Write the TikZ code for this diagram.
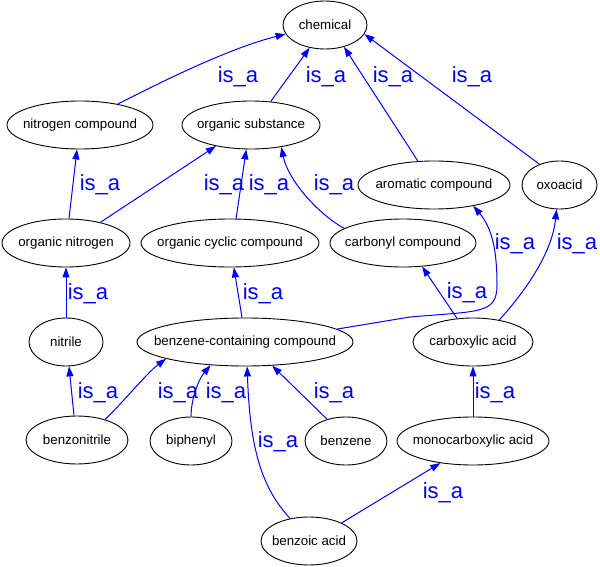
\documentclass[tikz,border=0pt]{standalone}
\usepackage{fontspec}
\setmainfont{Liberation Sans}
\usetikzlibrary{shapes.geometric,arrows.meta}
\newcommand{\zw}[1]{\makebox[0pt]{#1}}
\begin{document}
\begin{tikzpicture}[x=1pt,y=-1pt,
  ell/.style={ellipse, draw=black, line width=0.9pt, minimum height=48pt, inner sep=0pt,
    font=\fontsize{13.3}{15}\selectfont},
  isa/.style={draw=blue, line width=1pt, -{Triangle[length=10pt,width=7pt]}},
  lab/.style={text=blue, font=\fontsize{22}{24}\selectfont, inner sep=0pt}]
\useasboundingbox (0,0) rectangle (600,567);
% nodes
\node[ell, minimum width=84pt]  (chem) at (325,25)  {\zw{chemical}};
\node[ell, minimum width=146pt] (nc)   at (80,125)  {\zw{nitrogen compound}};
\node[ell, minimum width=138pt] (os)   at (251,125) {\zw{organic substance}};
\node[ell, minimum width=152pt] (ac)   at (434,185) {\zw{aromatic compound}};
\node[ell, minimum width=75pt]  (oxo)  at (559.5,185) {\zw{oxoacid}};
\node[ell, minimum width=128pt] (on)   at (66,243)  {\zw{organic nitrogen}};
\node[ell, minimum width=178pt] (occ)  at (230,243) {\zw{organic cyclic compound}};
\node[ell, minimum width=146pt] (cc)   at (403,243) {\zw{carbonyl compound}};
\node[ell, minimum width=74pt]  (nit)  at (66,342)  {\zw{nitrile}};
\node[ell, minimum width=216pt] (bcc)  at (245,342) {\zw{benzene-containing compound}};
\node[ell, minimum width=120pt] (ca)   at (473,342) {\zw{carboxylic acid}};
\node[ell, minimum width=102pt] (bn)   at (77,440)  {\zw{benzonitrile}};
\node[ell, minimum width=82pt]  (bp)   at (191,441) {\zw{biphenyl}};
\node[ell, minimum width=82pt]  (bz)   at (346,441) {\zw{benzene}};
\node[ell, minimum width=152pt] (mca)  at (473,441) {\zw{monocarboxylic acid}};
\node[ell, minimum width=96pt]  (bzo)  at (309,541) {\zw{benzoic acid}};
% edges
\draw[isa] (nc.29) .. controls (165,80) and (230,48) .. (chem.193);
\draw[isa] (os.50) -- (chem.236);
\draw[isa] (ac.124) -- (chem.311);
\draw[isa] (oxo.134) -- (chem.347);
\draw[isa] (on.83) -- (nc.263);
\draw[isa] (on.31) -- (os.211);
\draw[isa] (occ.76) -- (os.259);
\draw[isa] (cc.166) .. controls (318,214) and (288,180) .. (os.324);
\draw[isa] (bcc.97) -- (occ.279);
\draw[isa] (nit.90) -- (on.270);
\draw[isa] (ca.124) -- (cc.309);
\draw[isa] (bcc.8) -- (410,317) .. controls (480,311) and (497,314) .. (497,285)
  .. controls (497,250) and (492,228) .. (ac.332);
\draw[isa] (ca.40) .. controls (522,295) and (552,255) .. (oxo.263);
\draw[isa] (mca.90) -- (ca.270);
\draw[isa] (bn.97) -- (nit.277);
\draw[isa] (bn.36) .. controls (125,400) and (148,372) .. (bcc.192);
\draw[isa] (bp.90) .. controls (191,400) and (198,380) .. (bcc.214);
\draw[isa] (bzo.130) .. controls (262,488) and (250,450) .. (bcc.275);
\draw[isa] (bz.131) -- (bcc.319);
\draw[isa] (bzo.29) -- (mca.214);
% labels
\node[lab] (l1) at (238,77) {is\_a};
\node[lab] (l2) at (326,77) {is\_a};
\node[lab] (l3) at (393,77) {is\_a};
\node[lab] (l4) at (472,77) {is\_a};
\node[lab] (l5) at (100,185) {is\_a};
\node[lab] (l6) at (224,185) {is\_a};
\node[lab] (l7) at (269,185) {is\_a};
\node[lab] (l8) at (334,185) {is\_a};
\node[lab] (l9) at (263,294) {is\_a};
\node[lab] (l10) at (88,294) {is\_a};
\node[lab] (l11) at (467,293) {is\_a};
\node[lab] (l12) at (515,244) {is\_a};
\node[lab] (l13) at (577,244) {is\_a};
\node[lab] (l14) at (495,393) {is\_a};
\node[lab] (l15) at (98,393) {is\_a};
\node[lab] (l16) at (178,393) {is\_a};
\node[lab] (l17) at (226,393) {is\_a};
\node[lab] (l18) at (278,442) {is\_a};
\node[lab] (l19) at (334,393) {is\_a};
\node[lab] (l20) at (443,493) {is\_a};
\end{tikzpicture}
\end{document}
